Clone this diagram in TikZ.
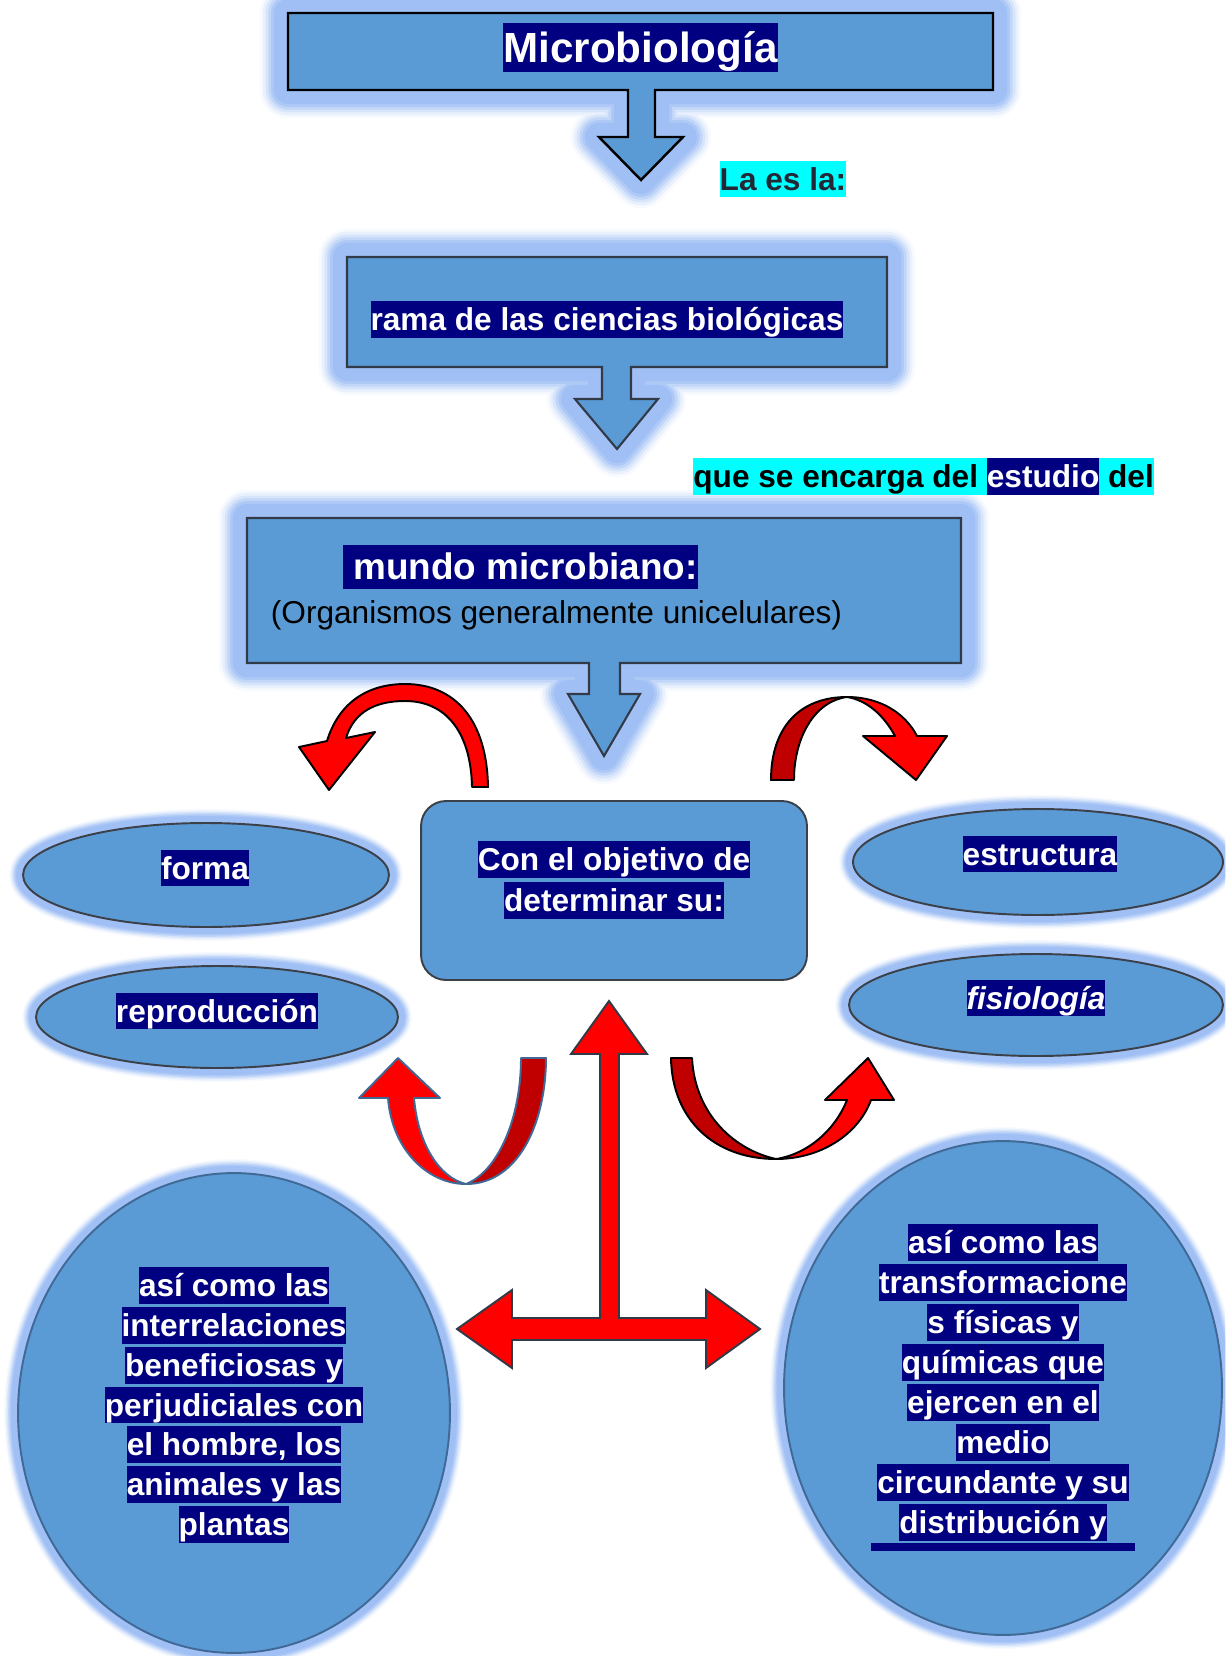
\documentclass[tikz,border=0pt]{standalone}
\usepackage{fontspec}
\setmainfont{Liberation Sans}
\usetikzlibrary{shapes.geometric}

\definecolor{boxblue}{RGB}{91,155,213}
\definecolor{glowblue}{RGB}{160,192,245}
\definecolor{hlnavy}{RGB}{0,0,128}
\definecolor{cyanbg}{RGB}{0,255,255}
\definecolor{laescolor}{RGB}{35,40,55}
\definecolor{slateline}{RGB}{50,58,72}
\definecolor{ovalline}{RGB}{60,64,72}
\definecolor{bigline}{RGB}{65,105,150}
\definecolor{arrowred}{RGB}{255,0,0}
\definecolor{backred}{RGB}{192,0,0}

\newcommand{\hlnavy}[1]{{\setlength{\fboxsep}{0pt}\colorbox{hlnavy}{\textcolor{white}{\rule[-4.2pt]{0pt}{21pt}#1}}}}

\begin{document}
\begin{tikzpicture}[x=0.02cm, y=-0.02cm,
  halo/.style={preaction={draw=glowblue!8, line width=#1, line join=round},
               preaction={draw=glowblue!22, line width=0.9*#1, line join=round},
               preaction={draw=glowblue!42, line width=0.8*#1, line join=round},
               preaction={draw=glowblue!65, line width=0.7*#1, line join=round},
               preaction={draw=glowblue!85, line width=0.6*#1, line join=round},
               preaction={draw=glowblue, line width=0.5*#1, line join=round}},
  dropbox/.style={fill=boxblue, draw=#1, line width=1.2pt, halo=32pt},
  oval/.style={ellipse, fill=boxblue, draw=ovalline, line width=1.1pt, inner sep=0pt, halo=16pt},
  bigoval/.style={ellipse, fill=boxblue, draw=bigline, line width=1.1pt, inner sep=0pt, halo=16pt},
  navytag/.style={fill=hlnavy, text=white, inner sep=0pt, font=\bfseries\fontsize{18}{22.7}\selectfont,
                  text height=16.8pt, text depth=4.2pt},
  cyantag/.style={navytag, fill=cyanbg, text=laescolor},
  blocktext/.style={align=center, inner sep=0pt, font=\bfseries\fontsize{18}{22.7}\selectfont},
  ribbon/.style={fill=#1, draw=black, line width=1.1pt, line join=round},
  crossarrow/.style={fill=arrowred, draw=slateline, line width=1.1pt}]
  \useasboundingbox (0,0) rectangle (1225,1656);
  \clip (0,0) rectangle (1225,1656);
  \fill[white] (0,0) rectangle (1225,1656);

  \draw[dropbox=black, line width=1.4pt] (288,13) -- (993,13) -- (993,90) -- (655,90) -- (655,137)
    -- (683,137) -- (641,180) -- (599,137) -- (628,137) -- (628,90) -- (288,90) -- cycle;
  \draw[dropbox=slateline] (347,257) -- (887,257) -- (887,367) -- (631,367) -- (631,399)
    -- (658,399) -- (617,449) -- (575,399) -- (602,399) -- (602,367) -- (347,367) -- cycle;
  \draw[dropbox=slateline] (247,518) -- (961,518) -- (961,663) -- (620,663) -- (620,694)
    -- (640,694) -- (604,756) -- (568,694) -- (589,694) -- (589,663) -- (247,663) -- cycle;

  \node[oval, minimum width=7.32cm, minimum height=2.08cm] (forma) at (206,875) {};
  \node[oval, minimum width=7.24cm, minimum height=2.04cm] (reproduccion) at (217,1017) {};
  \node[oval, minimum width=7.4cm, minimum height=2.12cm] (estructura) at (1038,862) {};
  \node[oval, minimum width=7.48cm, minimum height=2.04cm] (fisiologia) at (1036,1005) {};
  \node[draw=ovalline, fill=boxblue, line width=1.1pt, rounded corners=0.5cm,
        minimum width=7.72cm, minimum height=3.58cm] (objetivo) at (614,890.5) {};
  \node[bigoval, minimum width=8.64cm, minimum height=9.6cm] (relaciones) at (234,1413) {};
  \node[bigoval, minimum width=8.76cm, minimum height=9.88cm] (transform) at (1003,1388) {};

  \draw[ribbon=arrowred] (472,787) .. controls (471,735) and (448,701) .. (405,701)
    .. controls (375,701) and (354,712) .. (346,738) -- (375,732) -- (329,790) -- (299,747)
    -- (327,741) .. controls (338,705) and (365,684) .. (405,684)
    .. controls (455,684) and (487,720) .. (488,787) -- cycle;
  \draw[ribbon=backred] (771,780) .. controls (771,727) and (800,697) .. (847,697)
    .. controls (815,701) and (794,737) .. (794,780) -- cycle;
  \draw[ribbon=arrowred] (847,697) .. controls (880,697) and (905,713) .. (917,736) -- (947,736)
    -- (916,780) -- (863,736) -- (895,736) .. controls (883,714) and (866,700) .. (847,697) -- cycle;
  \draw[ribbon=arrowred, draw=bigline] (388,1098) .. controls (392,1150) and (428,1184) .. (466,1184)
    .. controls (440,1178) and (418,1145) .. (414,1098) -- (440,1098) -- (398,1058) -- (359,1098) -- cycle;
  \draw[ribbon=backred, draw=bigline] (466,1184) .. controls (520,1184) and (546,1120) .. (546,1058)
    -- (521,1058) .. controls (521,1120) and (497,1172) .. (466,1184) -- cycle;
  \draw[ribbon=backred] (671,1058) .. controls (672,1120) and (715,1159) .. (776,1159)
    .. controls (735,1150) and (695,1115) .. (692,1058) -- cycle;
  \draw[ribbon=arrowred] (776,1159) .. controls (820,1159) and (858,1135) .. (871,1100) -- (894,1100)
    -- (868,1058) -- (825,1100) -- (847,1100) .. controls (835,1130) and (808,1154) .. (776,1159) -- cycle;
  \draw[crossarrow] (609,1001) -- (647,1054) -- (619,1054) -- (619,1318) -- (706,1318) -- (706,1290)
    -- (760,1329) -- (706,1368) -- (706,1340) -- (512,1340) -- (512,1368) -- (457,1329)
    -- (512,1290) -- (512,1318) -- (600,1318) -- (600,1054) -- (571,1054) -- cycle;

  \node[navytag, font=\bfseries\fontsize{24}{29}\selectfont, text height=22.4pt, text depth=5.6pt]
    (titulo) at (640.5,47.5) {Microbiología};
  \node[cyantag] (laes) at (783,179) {La es la:};
  \node[navytag] (rama) at (607,319.5) {rama de las ciencias biológicas};
  \node[cyantag, text=black, anchor=west] (encargo) at (693,476.5) {que se encarga del \hlnavy{estudio} del};
  \node[navytag, font=\bfseries\fontsize{21}{25}\selectfont, text height=19.6pt, text depth=4.9pt]
    (mundo) at (520.5,567) {\ mundo microbiano:};
  \node[inner sep=0pt, font=\fontsize{18}{22}\selectfont] (organismos) at (556.5,615)
    {(Organismos generalmente unicelulares)};
  \node[blocktext, font=\bfseries\fontsize{18}{23}\selectfont] (objtexto) at (614,880)
    {\hlnavy{Con el objetivo de}\\\hlnavy{determinar su:}};
  \node[navytag] (formatx) at (205,868) {forma};
  \node[navytag] (reprotx) at (217,1011) {reproducción};
  \node[navytag] (estrtx) at (1040,854) {estructura};
  \node[navytag, font=\bfseries\itshape\fontsize{18}{22.7}\selectfont] (fisiotx) at (1036,998) {fisiología};
  \node[blocktext] (reltx) at (234,1405)
    {\hlnavy{así como las}\\\hlnavy{interrelaciones}\\\hlnavy{beneficiosas y}\\\hlnavy{perjudiciales con}\\
     \hlnavy{el hombre, los}\\\hlnavy{animales y las}\\\hlnavy{plantas}};
  \node[blocktext] (transtx) at (1003,1382.5)
    {\hlnavy{así como las}\\\hlnavy{transformacione}\\\hlnavy{s físicas y}\\\hlnavy{químicas que}\\
     \hlnavy{ejercen en el}\\\hlnavy{medio}\\\hlnavy{circundante y su}\\\hlnavy{distribución y}};
  \fill[hlnavy] (871,1543) rectangle (1135,1551);
\end{tikzpicture}
\end{document}
